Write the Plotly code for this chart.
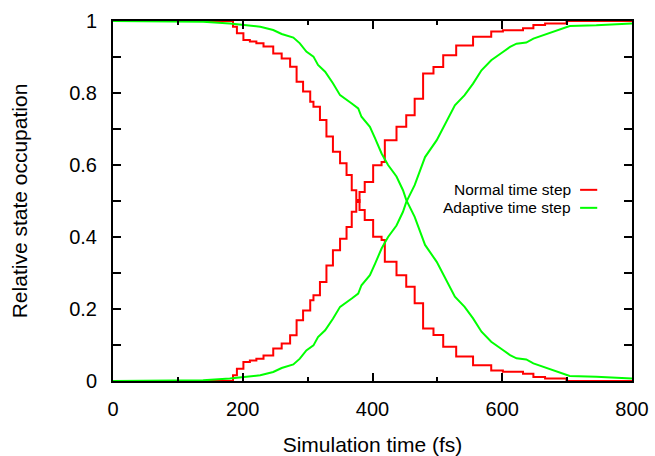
import plotly.graph_objects as go

# Normal time step (red), populations of the two states
normal_x = [0, 178, 185, 191, 201, 211, 221, 232, 247, 260, 273, 283, 293, 304, 309, 319,
            329, 339, 350, 360, 368, 375, 380, 388, 401, 414, 419, 437, 452, 465, 478, 494,
            509, 529, 555, 583, 601, 632, 648, 666, 699, 700, 800]
normal_a = [1, 1, 0.984, 0.966, 0.947, 0.943, 0.938, 0.929, 0.91, 0.896, 0.873, 0.831, 0.804,
            0.776, 0.762, 0.725, 0.679, 0.637, 0.605, 0.572, 0.53, 0.503, 0.475, 0.447, 0.401, 0.392,
            0.331, 0.294, 0.262, 0.216, 0.146, 0.128, 0.095, 0.068, 0.044, 0.029, 0.026,
            0.02, 0.011, 0.007, 0.002, 0, 0]
normal_b = [0, 0, 0.016, 0.034, 0.053, 0.057, 0.062, 0.071, 0.09, 0.104, 0.127, 0.169, 0.196,
            0.224, 0.238, 0.275, 0.321, 0.363, 0.395, 0.428, 0.47, 0.497, 0.525, 0.553, 0.599, 0.608,
            0.669, 0.706, 0.738, 0.784, 0.854, 0.872, 0.905, 0.932, 0.956, 0.971, 0.974,
            0.98, 0.989, 0.993, 0.998, 1, 1]

# Adaptive time step (green)
adapt_x = [0, 139, 180, 201, 227, 247, 260, 278, 288, 298, 309, 316, 327, 339, 350, 368, 378,
           383, 396, 404, 414, 424, 437, 447, 452, 465, 473, 481, 499, 514, 527, 542, 555,
           568, 583, 601, 612, 622, 637, 648, 663, 684, 704, 745, 800]
adapt_a = [1, 0.998, 0.993, 0.989, 0.984, 0.975, 0.964, 0.954, 0.938, 0.915, 0.901, 0.878,
           0.859, 0.827, 0.794, 0.771, 0.757, 0.734, 0.706, 0.674, 0.632, 0.6, 0.568, 0.53,
           0.503, 0.456, 0.419, 0.378, 0.331, 0.281, 0.234, 0.206, 0.174, 0.137, 0.109,
           0.086, 0.072, 0.063, 0.06, 0.049, 0.04, 0.026, 0.014, 0.012, 0.007]
adapt_b = [0, 0.002, 0.007, 0.011, 0.016, 0.025, 0.036, 0.046, 0.062, 0.085, 0.099, 0.122,
           0.141, 0.173, 0.206, 0.229, 0.243, 0.266, 0.294, 0.326, 0.368, 0.4, 0.432, 0.47,
           0.497, 0.544, 0.581, 0.622, 0.669, 0.719, 0.766, 0.794, 0.826, 0.863, 0.891,
           0.914, 0.928, 0.937, 0.94, 0.951, 0.96, 0.974, 0.986, 0.988, 0.993]

x_ticks = [0, 200, 400, 600, 800]
y_ticks = [0, 0.1, 0.2, 0.3, 0.4, 0.5, 0.6, 0.7, 0.8, 0.9, 1]
y_labels = ["0", "", "0.2", "", "0.4", "", "0.6", "", "0.8", "", "1"]
legend_names = ["Normal time step", "Adaptive time step"]

RED = "#ff0000"
GREEN = "#00ff00"
FONT = "Liberation Sans, Arial, sans-serif"

fig = go.Figure()
for y in (normal_a, normal_b):
    fig.add_trace(go.Scatter(x=normal_x, y=y, mode="lines", line=dict(color=RED, width=2, shape="hv"),
                             showlegend=False, hoverinfo="skip"))
for y in (adapt_a, adapt_b):
    fig.add_trace(go.Scatter(x=adapt_x, y=y, mode="lines", line=dict(color=GREEN, width=2),
                             showlegend=False, hoverinfo="skip"))

axis_common = dict(showline=True, linecolor="black", linewidth=2, mirror="ticks",
                   ticks="inside", tickcolor="black", tickwidth=1.5, showgrid=False,
                   zeroline=False, automargin=False,
                   tickfont=dict(family=FONT, size=20, color="black"))

fig.update_xaxes(range=[0, 800], tickvals=x_ticks, ticklen=8, ticklabelstandoff=9,
                 minor=dict(tickvals=[100, 300, 500, 700], ticklen=4, ticks="inside", tickcolor="black", tickwidth=1.5),
                 title=dict(text="Simulation time (fs)", font=dict(family=FONT, size=21, color="black"), standoff=18),
                 **axis_common)
fig.update_yaxes(range=[0, 1], tickvals=y_ticks, ticktext=y_labels, ticklen=8, ticklabelstandoff=10,
                 title=dict(text="Relative state occupation", font=dict(family=FONT, size=21, color="black"), standoff=36),
                 **axis_common)

# legend (text left of sample line, gnuplot style)
for i, (name, col) in enumerate(zip(legend_names, [RED, GREEN])):
    yp = [0.531, 0.481][i]
    fig.add_annotation(x=0.8863, y=yp, xref="paper", yref="paper", text=name, showarrow=False,
                       xanchor="right", yanchor="middle", font=dict(family=FONT, size=15.5, color="black"))
    fig.add_shape(type="line", xref="paper", yref="paper", x0=0.9, x1=0.933, y0=yp, y1=yp,
                  line=dict(color=col, width=2))

fig.update_layout(width=655, height=456, margin=dict(l=113, r=23, t=21, b=75, autoexpand=False),
                  paper_bgcolor="white", plot_bgcolor="white", showlegend=False)

fig.write_html("out.html")
